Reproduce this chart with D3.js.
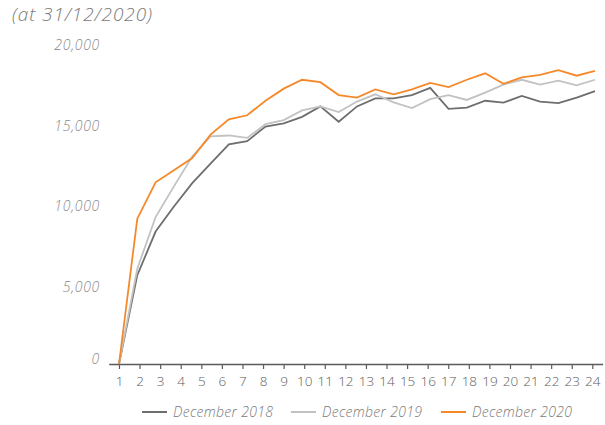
<!DOCTYPE html>
<html>
<head>
<meta charset="utf-8">
<script src="https://cdn.jsdelivr.net/npm/d3@7"></script>
<style>
  html, body { margin: 0; padding: 0; background: #fff; }
  svg { display: block; font-family: "Open Sans", "Lato", sans-serif; }
</style>
</head>
<body>
<svg id="chart" width="605" height="425"></svg>
<script>
// ---- data ----
const titleText = "(at 31/12/2020)";
const xTickLabels = d3.range(1, 25);               // category axis labels 1..24
const yTickValues = [0, 5000, 10000, 15000, 20000];
const seriesNames = ["December 2018", "December 2019", "December 2020"];
const dec2018 = [0, 5500, 8200, 9750, 11200, 12400, 13600, 13800, 14700, 14900, 15300, 15950, 15000, 15950, 16450, 16450, 16650, 17100, 15800, 15870, 16300, 16180, 16600, 16250, 16150, 16500, 16900];
const dec2019 = [0, 5900, 9100, 11000, 12850, 14100, 14150, 14000, 14850, 15100, 15700, 15950, 15600, 16250, 16700, 16200, 15850, 16400, 16650, 16350, 16800, 17300, 17600, 17300, 17550, 17250, 17600];
const dec2020 = [0, 9000, 11250, 12000, 12750, 14200, 15150, 15400, 16300, 17050, 17600, 17450, 16650, 16500, 17000, 16700, 17000, 17400, 17150, 17600, 18000, 17350, 17750, 17900, 18200, 17850, 18150];
const seriesColors = ["#6e6e6e", "#c2c2c2", "#f5892a"];

const series = [dec2018, dec2019, dec2020];

const svg = d3.select("#chart");

// scales
const x = d3.scalePoint().domain(xTickLabels).range([108.7, 602.6]).padding(0.5);
const xData = d3.scaleLinear().domain([0, dec2018.length - 1]).range([119, 595]);
const y = d3.scaleLinear().domain([0, 20000]).range([364, 41]);

// title
svg.append("text")
  .attr("x", 12).attr("y", 21)
  .attr("fill", "#7a7a7a")
  .attr("font-size", 19)
  .attr("letter-spacing", 0.9)
  .attr("font-style", "italic")
  .attr("font-weight", 300)
  .text(titleText);

// y axis labels (no line)
const yAxis = d3.axisLeft(y).tickValues(yTickValues).tickSize(0).tickFormat(d3.format(","));
const yg = svg.append("g").attr("transform", "translate(100,0)").call(yAxis);
yg.select(".domain").remove();
yg.selectAll("text")
  .attr("x", 0)
  .attr("dy", d => d === 0 ? "-0.05em" : "0.6em")
  .attr("fill", "#8a8a8a")
  .attr("font-size", 14)
  .attr("letter-spacing", 0.7)
  .attr("font-style", "italic")
  .attr("font-weight", 300)
  .attr("font-family", "'Open Sans', sans-serif");

// x axis
const xAxis = d3.axisBottom(x).tickSize(5).tickSizeOuter(0).tickPadding(7);
const xg = svg.append("g").attr("transform", "translate(0,364)").call(xAxis);
xg.select(".domain").attr("stroke", "#5a5a5a").attr("stroke-width", 1.3);
xg.selectAll(".tick line").attr("stroke", "#5a5a5a").attr("stroke-width", 1.2);
xg.selectAll("text")
  .attr("fill", "#5e5e5e")
  .attr("font-size", 13.5)
  .attr("font-weight", 300)
  .attr("font-family", "'Open Sans', sans-serif");

// lines
const line = d3.line().x((d, i) => xData(i)).y(d => y(d));
svg.append("g").selectAll("path")
  .data(series)
  .join("path")
  .attr("d", line)
  .attr("fill", "none")
  .attr("stroke", (d, i) => seriesColors[i])
  .attr("stroke-width", 1.8)
  .attr("stroke-linejoin", "miter");

// legend
const legendX = [142, 291, 441];
const lg = svg.append("g").attr("transform", "translate(0,412)");
const items = lg.selectAll("g").data(seriesNames).join("g")
  .attr("transform", (d, i) => `translate(${legendX[i]},0)`);
items.append("line")
  .attr("x1", 0).attr("x2", 25).attr("y1", 0).attr("y2", 0)
  .attr("stroke", (d, i) => seriesColors[i])
  .attr("stroke-width", 2);
items.append("text")
  .attr("x", 31).attr("y", 0).attr("dy", "0.35em")
  .attr("fill", "#7a7a7a")
  .attr("font-size", 14)
  .attr("letter-spacing", 0.3)
  .attr("font-style", "italic")
  .attr("font-weight", 300)
  .text(d => d);
</script>
</body>
</html>
